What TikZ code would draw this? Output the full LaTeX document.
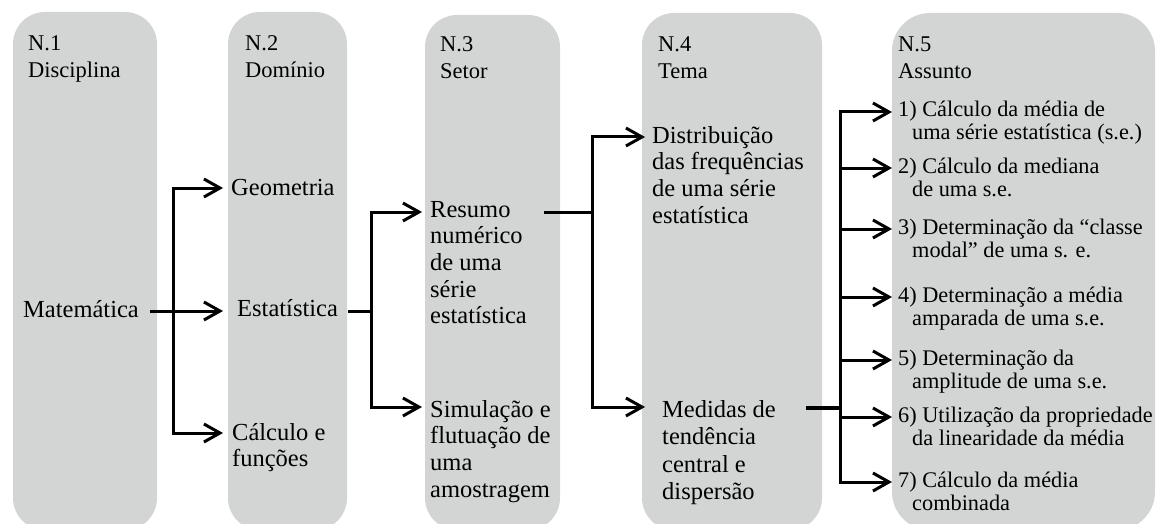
\documentclass[tikz,border=0pt]{standalone}
\usepackage{fontspec}
\setmainfont{Liberation Serif}
\usetikzlibrary{arrows.meta}
\definecolor{boxgray}{RGB}{211,212,212}
\newcommand{\mlines}[1]{\begin{tabular}[t]{@{}l@{}}#1\end{tabular}}
\newcommand{\ind}{\hspace*{14pt}}
\begin{document}
\begin{tikzpicture}[x=1pt,y=-1pt,
  col/.style={fill=boxgray, draw=none, rounded corners=32pt},
  txt/.style={inner sep=0pt, anchor=base west, font=\fontsize{24.5}{26.7}\selectfont},
  hdr/.style={inner sep=0pt, anchor=base west, font=\fontsize{22.5}{26.5}\selectfont},
  itm/.style={inner sep=0pt, anchor=base west, font=\fontsize{22.3}{23}\selectfont},
  ln/.style={line width=3pt},
  arr/.style={ln, -{Straight Barb[length=16pt,width=18pt]}},
]
\useasboundingbox (0,0) rectangle (1156,524);
% columns
\path[col] (13,12) rectangle (157,530);
\path[col] (228,12) rectangle (347,530);
\path[col] (425,15) rectangle (560,530);
\path[col] (642,13) rectangle (822,530);
\path[col, rounded corners=38pt] (892,13) rectangle (1155,530);
% headers
\node[hdr] (h1) at (28,51) {\mlines{N.1\\Disciplina}};
\node[hdr] (h2) at (245,51) {\mlines{N.2\\Domínio}};
\node[hdr] (h3) at (440,52) {\mlines{N.3\\Setor}};
\node[hdr] (h4) at (658,52) {\mlines{N.4\\Tema}};
\node[hdr] (h5) at (898,52) {\mlines{N.5\\Assunto}};
% texts
\node[txt] (mat) at (23,317) {Matemática};
\node[txt] (geo) at (231,195) {Geometria};
\node[txt] (est) at (237,316) {Estatística};
\node[txt] (cal) at (232,440) {\mlines{Cálculo e\\funções}};
\node[txt] (res) at (430,217) {\mlines{Resumo\\numérico\\de uma\\série\\estatística}};
\node[txt] (sim) at (430,417) {\mlines{Simulação e\\flutuação de\\uma\\amostragem}};
\node[txt] (dis) at (652,143) {\mlines{Distribuição\\das frequências\\de uma série\\estatística}};
\node[txt, font=\fontsize{24.5}{27.5}\selectfont] (med) at (662,417) {\mlines{Medidas de\\tendência\\central e\\dispersão}};
\node[itm] (i1) at (898,117) {\mlines{1) Cálculo da média de\\\ind uma série estatística (s.e.)}};
\node[itm] (i2) at (898,173) {\mlines{2) Cálculo da mediana\\\ind de uma s.e.}};
\node[itm] (i3) at (898,234) {\mlines{3) Determinação da “classe\\\ind modal” de uma s. e.}};
\node[itm] (i4) at (898,302) {\mlines{4) Determinação a média\\\ind amparada de uma s.e.}};
\node[itm] (i5) at (898,365) {\mlines{5) Determinação da\\\ind amplitude de uma s.e.}};
\node[itm] (i6) at (898,422) {\mlines{6) Utilização da propriedade\\\ind da linearidade da média}};
\node[itm] (i7) at (898,487) {\mlines{7) Cálculo da média\\\ind combinada}};
% junctions
\coordinate (j1) at (173,311);
\coordinate (j2) at (371,311);
\coordinate (j3) at (592,212);
\coordinate (j4) at (840,408);
% connectors
\draw[arr] ([xshift=11pt,yshift=6pt]mat.base east) -- ([xshift=-14pt,yshift=5pt]est.base west);
\draw[arr] (j1) |- ([xshift=-8pt,yshift=7pt]geo.base west);
\draw[arr] (j1) |- ([xshift=-9pt,yshift=7pt]cal.base west);
\draw[ln] ([xshift=10pt,yshift=5pt]est.base east) -- (j2);
\draw[arr] (j2) |- ([xshift=-8pt,yshift=5pt]res.base west);
\draw[arr] (j2) |- ([xshift=-8pt,yshift=10pt]sim.base west);
\draw[ln] ([xshift=17pt,yshift=5pt]res.base east) -- (j3);
\draw[arr] (j3) |- ([xshift=-7pt,yshift=6pt]dis.base west);
\draw[arr] (j3) |- ([xshift=-17pt,yshift=10pt]med.base west);
\draw[line width=4.5pt] ([xshift=30pt,yshift=9pt]med.base east) -- (j4);
\foreach \k in {1,...,7}{
  \draw[arr] (j4) |- ([xshift=-6pt,yshift=5pt]i\k.base west);
}
\end{tikzpicture}
\end{document}
